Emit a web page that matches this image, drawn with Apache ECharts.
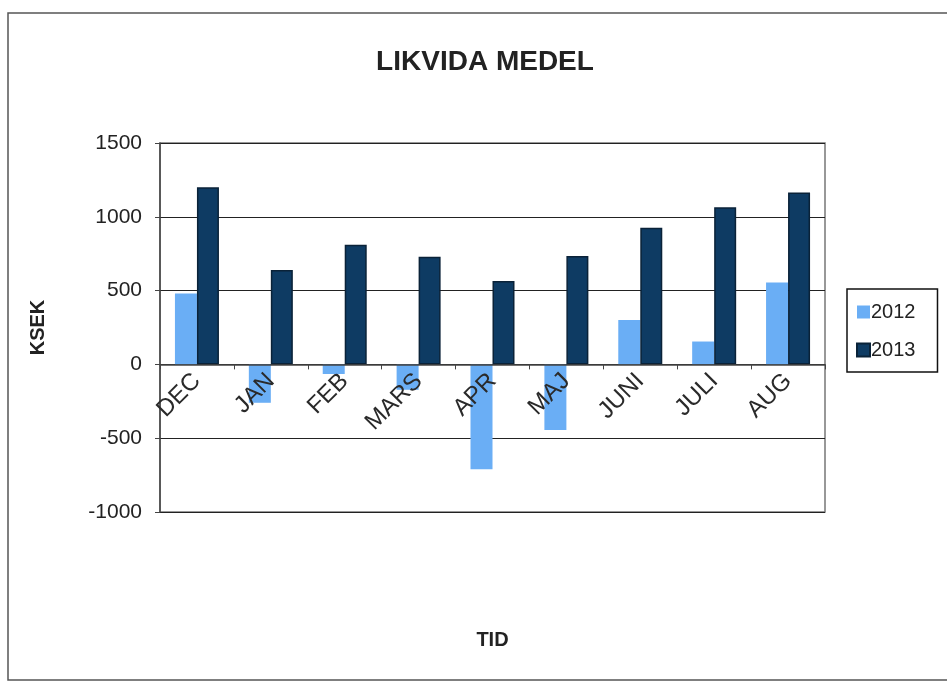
<!DOCTYPE html>
<html>
<head>
<meta charset="utf-8">
<script src="https://cdn.jsdelivr.net/npm/echarts@6/dist/echarts.min.js"></script>
<style>
  html, body { margin: 0; padding: 0; background: #fff; }
  #chart { width: 947px; height: 683px; }
</style>
</head>
<body>
<div id="chart"></div>
<script>
const months = ["DEC", "JAN", "FEB", "MARS", "APR", "MAJ", "JUNI", "JULI", "AUG"];
const values2012 = [480, -260, -65, -172, -710, -445, 300, 155, 555];
const values2013 = [1200, 640, 810, 730, 565, 735, 925, 1065, 1165];
const yTicks = [-1000, -500, 0, 500, 1000, 1500];

const chart = echarts.init(document.getElementById("chart"));
const font = "Liberation Sans, Arial, sans-serif";

// plot box
const gridTop = 143, gridHeight = 369;
const yMin = yTicks[0], yMax = yTicks[yTicks.length - 1];
// lift the category axis from the bottom edge up to the zero line
const zeroLift = (0 - yMin) / (yMax - yMin) * gridHeight;

chart.setOption({
  animation: false,
  backgroundColor: "#fff",
  textStyle: { fontFamily: font },
  title: {
    text: "LIKVIDA MEDEL",
    left: 480, top: 43, textAlign: "center",
    textStyle: { fontSize: 28, fontWeight: "bold", color: "#222", fontFamily: font }
  },
  legend: {
    orient: "vertical",
    left: 847, top: 289,
    itemWidth: 13, itemHeight: 13, itemGap: 18,
    icon: "rect",
    padding: [13, 22, 12, 9],
    borderColor: "#111", borderWidth: 1.5,
    textStyle: { fontSize: 20, color: "#222", fontFamily: font, padding: [0, 0, 0, -4] },
    data: ["2012", "2013"]
  },
  graphic: [{
    type: "rect",
    shape: { x: 8, y: 13, width: 945, height: 667 },
    style: { fill: "none", stroke: "#555", lineWidth: 1.5 },
    z: -1
  }, {
    type: "rect",
    shape: { x: 160, y: gridTop, width: 665, height: gridHeight },
    style: { fill: "none", stroke: "#777", lineWidth: 1.5 },
    z: -1
  }],
  grid: { left: 160, right: 122, top: gridTop, height: gridHeight, containLabel: false, outerBoundsMode: "none" },
  xAxis: {
    type: "category",
    data: months,
    position: "bottom",
    offset: -zeroLift,
    z: 5,
    name: "TID",
    nameLocation: "middle",
    nameGap: 266,
    nameTextStyle: { fontSize: 20, fontWeight: "bold", color: "#222", fontFamily: font },
    axisLine: { onZero: false, lineStyle: { color: "#444", width: 1.5 } },
    axisTick: { show: true, inside: false, length: 5, lineStyle: { color: "#444" } },
    axisLabel: { rotate: 45, fontSize: 24, color: "#2a2a2a", margin: 13, fontFamily: font }
  },
  yAxis: {
    type: "value",
    min: yMin, max: yMax, interval: 500,
    name: "KSEK",
    nameLocation: "middle",
    nameGap: 112,
    nameRotate: 90,
    nameTextStyle: { fontSize: 20, fontWeight: "bold", color: "#222", fontFamily: font },
    axisLine: { show: true, lineStyle: { color: "#444", width: 1.5 } },
    axisTick: { show: true, length: 5, lineStyle: { color: "#444" } },
    axisLabel: { fontSize: 21, color: "#222", margin: 18, fontFamily: font, formatter: (v) => String(v) },
    splitLine: { show: true, lineStyle: { color: "#222", width: 1.2 } }
  },
  series: [{
    name: "2012",
    type: "bar",
    data: values2012,
    barWidth: 22,
    barGap: "0%",
    itemStyle: { color: "#6aaef5" }
  }, {
    name: "2013",
    type: "bar",
    data: values2013,
    barWidth: 22,
    itemStyle: { color: "#0e3b63", borderColor: "#0a2238", borderWidth: 1.5 }
  }]
});
</script>
</body>
</html>
